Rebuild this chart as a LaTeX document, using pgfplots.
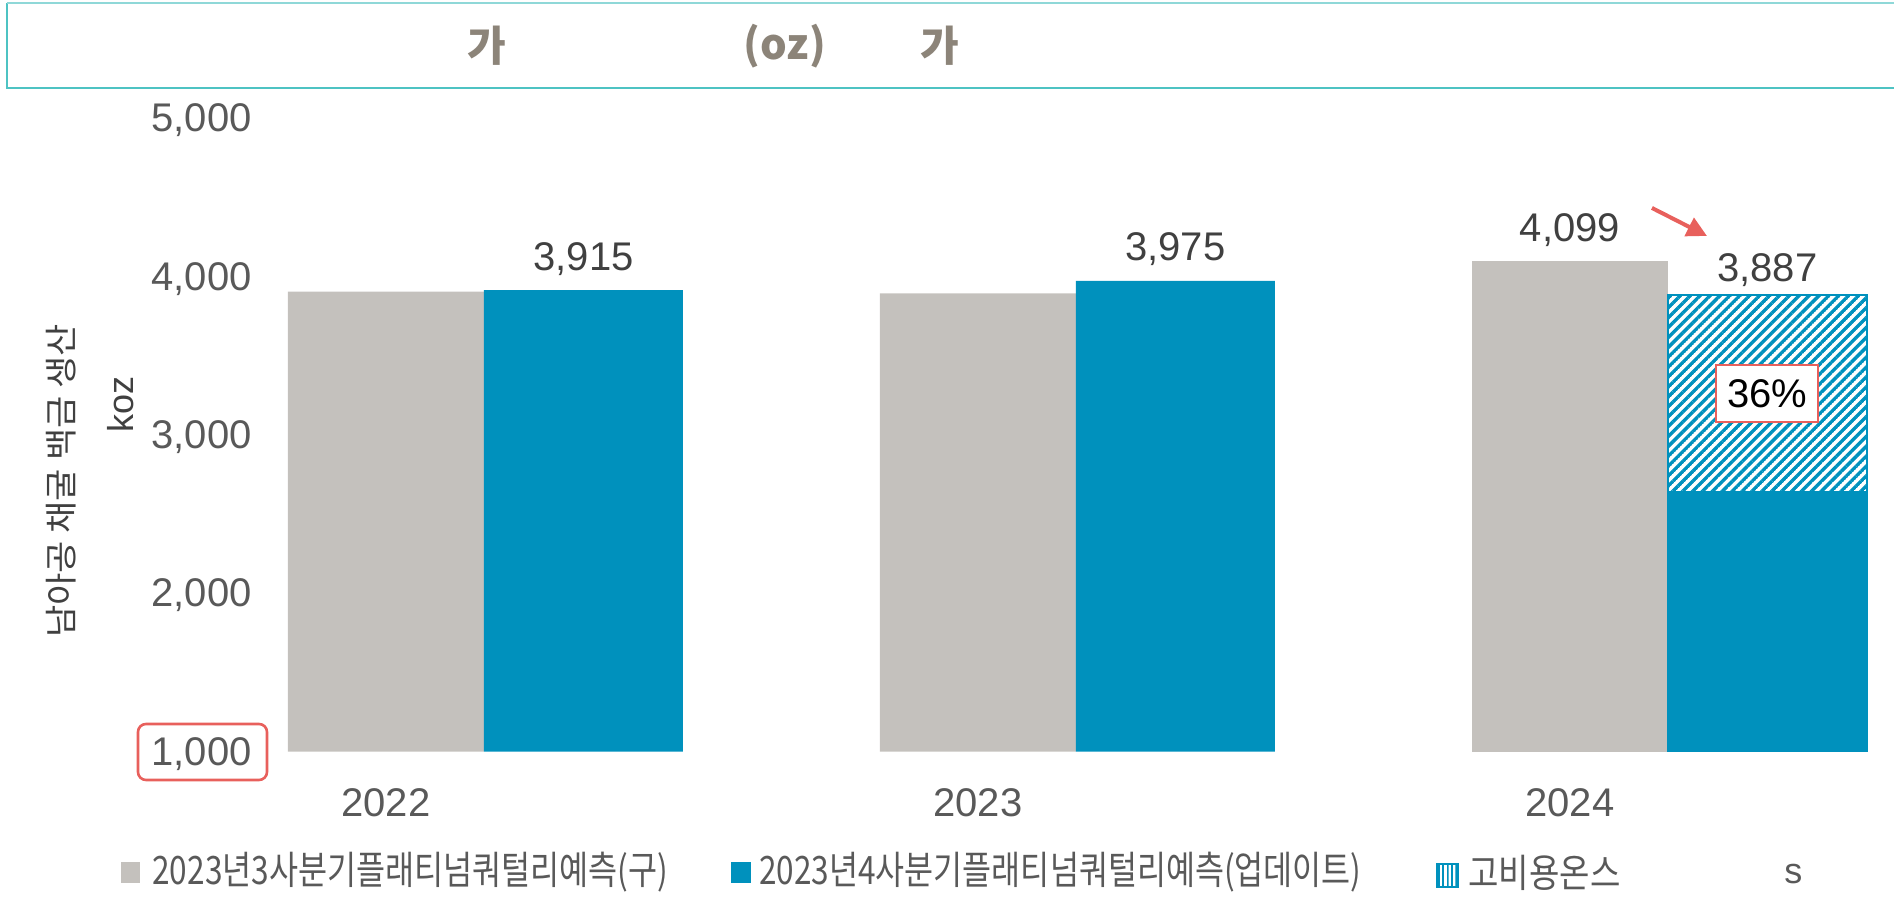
\documentclass[border=0pt]{standalone}
\usepackage{fontspec}
\setmainfont{Liberation Sans}
\newfontfamily\kr{Noto Sans CJK KR}
\usepackage{pgfplots}
\pgfplotsset{compat=1.18}
\usetikzlibrary{patterns.meta,arrows.meta}

\definecolor{barGray}{HTML}{C4C1BD}
\definecolor{barBlue}{HTML}{0091BD}
\definecolor{labGray}{HTML}{404040}
\definecolor{tickGray}{HTML}{595959}
\definecolor{boxTeal}{HTML}{4EC3C3}
\definecolor{boxTealLight}{HTML}{8FD8D8}
\definecolor{titleGray}{HTML}{8C8479}
\definecolor{markRed}{HTML}{E8605C}

% stripes for the high-cost ounces
\tikzdeclarepattern{
  name=stripes,
  parameters={
    \pgfkeysvalueof{/pgf/pattern keys/size},
    \pgfkeysvalueof{/pgf/pattern keys/angle},
    \pgfkeysvalueof{/pgf/pattern keys/line width},
  },
  bounding box={
    (0,-0.5*\pgfkeysvalueof{/pgf/pattern keys/line width}) and
    (\pgfkeysvalueof{/pgf/pattern keys/size},0.5*\pgfkeysvalueof{/pgf/pattern keys/line width})},
  tile size={(\pgfkeysvalueof{/pgf/pattern keys/size},\pgfkeysvalueof{/pgf/pattern keys/size})},
  tile transformation={rotate=\pgfkeysvalueof{/pgf/pattern keys/angle}},
  defaults={size/.initial=5pt, angle/.initial=45, line width/.initial=.4pt},
  code={
    \draw[line width=\pgfkeysvalueof{/pgf/pattern keys/line width}]
      (0,0) -- (\pgfkeysvalueof{/pgf/pattern keys/size},0);
  },
}

\newcommand{\lbl}{\fontsize{20}{24}\selectfont}

\begin{document}
\begin{tikzpicture}
\useasboundingbox (0pt,0pt) rectangle (947pt,448.5pt);

\begin{axis}[
  at={(94pt,72.65pt)}, anchor=south west,
  scale only axis, width=853pt, height=316.6pt,
  xmin=-0.5, xmax=2.382, ymin=1000, ymax=5000,
  xtick={0,1,2}, xticklabels={2022,2023,2024},
  ytick={1000,2000,3000,4000,5000},
  axis line style={draw=none}, major tick length=0pt,
  tick label style={font=\lbl, text=tickGray},
  /pgf/number format/assume math mode=true,
  /pgf/number format/1000 sep={,},
  yticklabel style={anchor=east, inner sep=0pt, xshift=32pt, yshift=-1pt},
  xticklabel style={anchor=base, inner sep=0pt, xshift=-49pt, yshift=-32.6pt},
  nodes near coords style={font=\lbl, text=labGray, anchor=base, inner sep=0pt, yshift=10pt},
]
% 2023 Q3 forecast (old)
\addplot[ybar, bar width=98pt, bar shift=-49pt, fill=barGray, draw=none]
  coordinates {(0,3906) (1,3895)};
\addplot[ybar, bar width=98pt, bar shift=-49pt, fill=barGray, draw=none,
  nodes near coords, nodes near coords style={xshift=-49pt}]
  coordinates {(2,4099)};
% 2023 Q4 forecast (update)
\addplot[ybar, bar width=99.5pt, bar shift=49.75pt, fill=barBlue, draw=none,
  nodes near coords, nodes near coords style={xshift=49.75pt}]
  coordinates {(0,3915) (1,3975)};
\addplot[ybar, bar width=99.5pt, bar shift=49.75pt, fill=white, draw=barBlue, line width=1pt,
  postaction={pattern={stripes[size=3.5pt,line width=1.7pt,angle=45]}, pattern color=barBlue},
  nodes near coords, nodes near coords style={xshift=49.75pt, yshift=-3.3pt}]
  coordinates {(2,3887)};
\addplot[ybar, bar width=99.5pt, bar shift=49.75pt, fill=barBlue, draw=none]
  coordinates {(2,2644)};

\node[draw=markRed, line width=1pt, fill=white, minimum width=51pt, minimum height=28.5pt,
  inner sep=0pt, font=\lbl, text=black] at (axis cs:2.168,3260) {36\%};
\draw[markRed, line width=2pt, -{Triangle[length=10pt,width=10pt]}]
  (axis cs:1.973,4435) -- (axis cs:2.066,4258);
\end{axis}

% title box
\draw[boxTeal, line width=1pt] (960pt,404.5pt) -- (3.5pt,404.5pt) -- (3.5pt,447pt);
\draw[boxTealLight, line width=1.2pt] (3.5pt,447pt) -- (960pt,447pt);
\begin{scope}[every node/.style={font=\kr\bfseries\fontsize{21}{25}\selectfont, text=titleGray}]
\node at (243.5pt,425.5pt) {가};
\node at (392.5pt,425.5pt) {(oz)};
\node at (470pt,425.5pt) {가};
\end{scope}

% y axis title
\node[rotate=90, text=labGray, inner sep=0pt] at (30.5pt,208pt)
  {\resizebox{157pt}{\height}{\kr\fontsize{16.5}{20}\selectfont 남아공 채굴 백금 생산}};
\node[rotate=90, font=\fontsize{18}{21}\selectfont, text=labGray, inner sep=0pt] at (60.5pt,246pt) {koz};

% marked 1,000
\draw[markRed, line width=1.3pt, rounded corners=4pt] (69pt,58.5pt) rectangle (133.5pt,86.5pt);

% legend
\fill[barGray] (60.5pt,7pt) rectangle (70pt,17.5pt);
\node[anchor=west, inner sep=0pt, text=tickGray] at (76pt,12.25pt)
  {\resizebox{258pt}{1.15\height}{\kr\fontsize{17}{20}\selectfont 2023년3사분기플래티넘쿼털리예측(구)}};
\fill[barBlue] (365.5pt,7pt) rectangle (375.5pt,17.5pt);
\node[anchor=west, inner sep=0pt, text=tickGray] at (379.5pt,12.25pt)
  {\resizebox{301pt}{1.15\height}{\kr\fontsize{17}{20}\selectfont 2023년4사분기플래티넘쿼털리예측(업데이트)}};
\fill[white] (718.5pt,5pt) rectangle (729pt,16.5pt);
\fill[pattern={stripes[size=2.2pt,line width=1pt,angle=90]}, pattern color=barBlue] (718.5pt,5pt) rectangle (729pt,16.5pt);
\draw[barBlue, line width=0.8pt] (718.5pt,5pt) rectangle (729pt,16.5pt);
\node[anchor=west, inner sep=0pt, text=tickGray] at (734pt,12.25pt)
  {\resizebox{76pt}{1.15\height}{\kr\fontsize{17}{20}\selectfont 고비용온스}};
\node[anchor=west, inner sep=0pt, text=tickGray, font=\fontsize{18}{21}\selectfont] at (892pt,11.5pt) {s};
\end{tikzpicture}
\end{document}
